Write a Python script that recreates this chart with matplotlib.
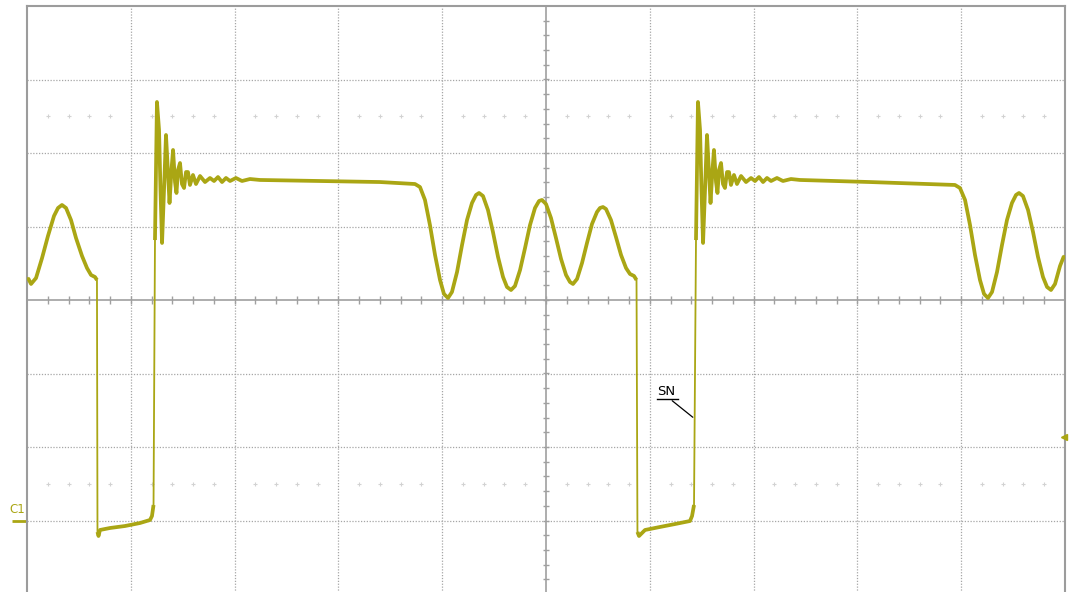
"""
Scope capture of channel C1: switch-node waveform over two switching cycles.
"""

import matplotlib
matplotlib.use("Agg")
import numpy as np
import matplotlib.pyplot as plt

# trace samples in screen divisions (10 horizontal x 8 vertical, 0 div = centre line)
t_div = [
    0.010, 0.039, 0.087, 0.145, 0.202, 0.260, 0.299, 0.337, 0.376, 0.424,
    0.472, 0.530, 0.578, 0.617, 0.655, 0.674,
    0.679, 0.689, 0.703, 0.800, 0.944, 1.089, 1.185, 1.204, 1.219,
    1.233, 1.252, 1.272, 1.286, 1.301, 1.320, 1.339, 1.358, 1.373, 1.392,
    1.407, 1.426, 1.440, 1.455, 1.474, 1.493, 1.513, 1.532, 1.551, 1.570,
    1.599, 1.628, 1.667, 1.715, 1.763, 1.802, 1.840, 1.879, 1.917, 1.956,
    2.013, 2.071, 2.148,
    2.245, 2.823, 3.401, 3.738,
    3.786, 3.834, 3.882, 3.931, 3.979, 4.017, 4.056, 4.094, 4.143, 4.191,
    4.239, 4.287, 4.326, 4.355, 4.393, 4.441, 4.489, 4.538, 4.586, 4.624,
    4.663, 4.701, 4.750, 4.798, 4.846, 4.894, 4.933, 4.961, 5.000, 5.048,
    5.096, 5.145, 5.193, 5.231, 5.260, 5.299, 5.347, 5.395, 5.443, 5.491,
    5.520, 5.549, 5.578, 5.626, 5.674, 5.723, 5.771, 5.809, 5.848, 5.872,
    5.881, 5.896, 5.954, 6.098, 6.243, 6.387, 6.407, 6.426,
    6.445, 6.464, 6.484, 6.498, 6.513, 6.532, 6.551, 6.570, 6.585, 6.604,
    6.618, 6.638, 6.652, 6.667, 6.686, 6.705, 6.724, 6.744, 6.763, 6.782,
    6.811, 6.840, 6.879, 6.927, 6.975, 7.014, 7.052, 7.091, 7.129, 7.168,
    7.225, 7.283, 7.360,
    7.447, 8.121, 8.940,
    8.988, 9.037, 9.085, 9.133, 9.181, 9.220, 9.258, 9.297, 9.345, 9.393,
    9.441, 9.489, 9.528, 9.557, 9.595, 9.644, 9.692, 9.740, 9.788, 9.827,
    9.865, 9.904, 9.952, 9.990,
]
v_div = [
    0.299, 0.218, 0.299, 0.571, 0.871, 1.143, 1.252, 1.293, 1.252, 1.088,
    0.844, 0.599, 0.435, 0.340, 0.313, 0.272,
    -3.156, -3.211, -3.129, -3.102, -3.075, -3.034, -2.993, -2.939, -2.789,
    0.816, 2.694, 2.313, 1.497, 0.776, 1.497, 2.245, 1.741, 1.320, 1.769,
    2.041, 1.605, 1.456, 1.769, 1.864, 1.578, 1.524, 1.741, 1.741, 1.565,
    1.701, 1.578, 1.687, 1.605, 1.660, 1.619, 1.673, 1.605, 1.660, 1.619,
    1.660, 1.619, 1.646,
    1.633, 1.619, 1.605, 1.578,
    1.537, 1.361, 1.020, 0.612, 0.272, 0.082, 0.027, 0.109, 0.381, 0.748,
    1.088, 1.320, 1.429, 1.456, 1.415, 1.224, 0.925, 0.585, 0.313, 0.177,
    0.136, 0.190, 0.408, 0.707, 1.020, 1.252, 1.347, 1.361, 1.306, 1.116,
    0.844, 0.558, 0.340, 0.245, 0.218, 0.286, 0.503, 0.776, 1.034, 1.197,
    1.252, 1.265, 1.238, 1.088, 0.857, 0.612, 0.435, 0.354, 0.327, 0.272,
    -3.156, -3.211, -3.129, -3.088, -3.048, -3.007, -2.939, -2.789,
    0.816, 2.694, 2.313, 1.497, 0.776, 1.497, 2.245, 1.741, 1.320, 1.769,
    2.041, 1.605, 1.456, 1.769, 1.864, 1.578, 1.524, 1.741, 1.741, 1.565,
    1.701, 1.578, 1.687, 1.605, 1.660, 1.619, 1.673, 1.605, 1.660, 1.619,
    1.660, 1.619, 1.646,
    1.633, 1.605, 1.565,
    1.524, 1.361, 1.020, 0.612, 0.272, 0.082, 0.027, 0.109, 0.381, 0.748,
    1.088, 1.320, 1.429, 1.456, 1.415, 1.224, 0.925, 0.585, 0.313, 0.177,
    0.136, 0.218, 0.463, 0.599,
]

ground_level = -3.0      # C1 reference marker
trigger_level = -1.864   # trigger arrow on right edge
sn_label = "SN"
sn_target = (6.435, -1.619)
sn_text_pos = (6.069, -1.293)

TRACE = "#aaa614"
GRID = "#a6a6a6"

fig = plt.figure(figsize=(10.69, 5.92), dpi=100)
ax = fig.add_axes([27 / 1069, -2 / 592, 1038 / 1069, 588 / 592])
ax.set_xlim(0, 10)
ax.set_ylim(-4, 4)
ax.set_xticks([])
ax.set_yticks([])
for s in ax.spines.values():
    s.set_color("#9c9c9c")
    s.set_linewidth(1.5)

# dotted division grid
for gx in range(1, 10):
    if gx != 5:
        ax.axvline(gx, color=GRID, lw=0.9, ls=(0, (1, 1.3)), zorder=1)
for gy in range(-3, 4):
    if gy != 0:
        ax.axhline(gy, color=GRID, lw=0.9, ls=(0, (1, 1.3)), zorder=1)

# centre axes with minor ticks
ax.axvline(5, color="#a0a0a0", lw=1.2, zorder=1)
ax.axhline(0, color="#a0a0a0", lw=1.2, zorder=1)
minor_x = np.arange(0.2, 10, 0.2)
minor_y = np.arange(-3.8, 4, 0.2)
ax.vlines(minor_x, -0.055, 0.055, color="#a0a0a0", lw=1.0, zorder=1)
ax.hlines(minor_y, 5 - 0.03, 5 + 0.03, color="#a0a0a0", lw=1.0, zorder=1)

# faint marker rows at +/- 2.5 div
ghost_x = [x for x in minor_x if abs(x - round(x)) > 0.05]
for gy in (2.5, -2.5):
    ax.plot(ghost_x, [gy] * len(ghost_x), ls="none", marker="+",
            ms=3, mew=0.8, color="#d2d2d2", zorder=1)

# waveform: thin switching edges, heavier (noisy) trace elsewhere
t = np.asarray(t_div)
v = np.asarray(v_div)
ax.plot(t, v, color=TRACE, lw=1.3, zorder=3)
edges = np.where(np.abs(np.diff(v)) > 2.0)[0] + 1
for seg_t, seg_v in zip(np.split(t, edges), np.split(v, edges)):
    ax.plot(seg_t, seg_v, color=TRACE, lw=2.7, solid_joinstyle="round",
            solid_capstyle="butt", zorder=3)

# SN annotation
ax.annotate("", xy=sn_target, xytext=(6.195, -1.347),
            arrowprops=dict(arrowstyle="-", color="black", lw=0.9), zorder=4)
ax.text(sn_text_pos[0], sn_text_pos[1], sn_label, fontsize=9.5,
        color="black", ha="left", va="baseline", zorder=4)
ax.plot([6.069, 6.272], [-1.347, -1.347], color="black", lw=1.0, zorder=4)

# channel ground marker and trigger arrow
ax.plot([-0.145, 0.0], [ground_level, ground_level], color=TRACE, lw=2.0,
        clip_on=False, solid_capstyle="butt")
ax.text(-0.165, ground_level + 0.06, "C1", fontsize=8.5, color=TRACE,
        ha="left", va="bottom", clip_on=False)
ax.plot([9.99], [trigger_level], marker="<", ms=5, color=TRACE, clip_on=False,
        zorder=5)

fig.savefig("out.png", dpi=100)
plt.close(fig)
